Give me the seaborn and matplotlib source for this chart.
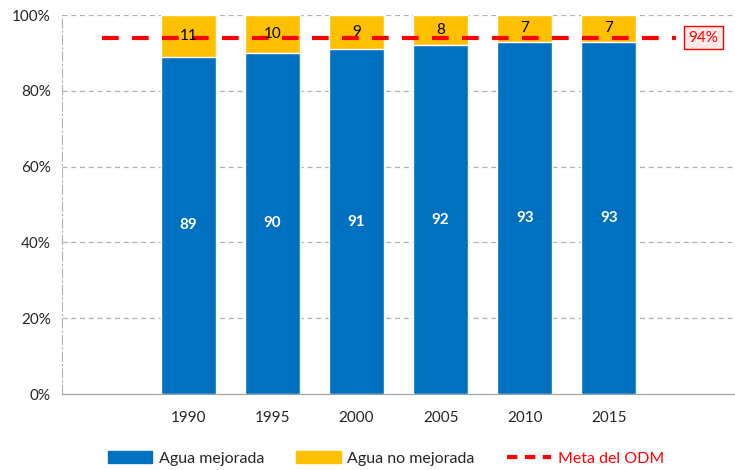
import matplotlib
matplotlib.use("Agg")
import matplotlib.pyplot as plt
from matplotlib.patches import Patch
from matplotlib.lines import Line2D
import seaborn as sns
import pandas as pd

years = ["1990", "1995", "2000", "2005", "2010", "2015"]
agua_mejorada = [89, 90, 91, 92, 93, 93]
agua_no_mejorada = [11, 10, 9, 8, 7, 7]
meta_odm = 94

blue = "#0070C0"
yellow = "#FFC000"
red = "#FF0000"

sns.set_style("white")
plt.rcParams["font.family"] = ["Lato", "DejaVu Sans"]

df = pd.DataFrame({"year": years, "mej": agua_mejorada, "no": agua_no_mejorada})
df["total"] = df["mej"] + df["no"]

fig = plt.figure(figsize=(7.35, 4.7), dpi=100)
ax = fig.add_axes([0.0844, 0.1617, 0.9156, 0.8063])

# stacked bars: full height in yellow, improved water drawn over it in blue
sns.barplot(data=df, x="year", y="total", color=yellow, width=0.65,
            saturation=1, ax=ax, zorder=2)
sns.barplot(data=df, x="year", y="mej", color=blue, width=0.65,
            saturation=1, ax=ax, zorder=3)

for i, row in df.iterrows():
    ax.text(i, row["mej"] / 2, str(row["mej"]), ha="center", va="center",
            color="white", fontsize=11, fontweight="bold", zorder=5)
    ax.text(i, row["mej"] + row["no"] / 2, str(row["no"]), ha="center",
            va="center", color="black", fontsize=11, zorder=5)

# meta line
ax.plot([-1.02, 5.8], [meta_odm, meta_odm], color=red, lw=3,
        dashes=(4, 3.2), zorder=4)
ax.text(6.12, meta_odm, f"{meta_odm}%", ha="center", va="center",
        color=red, fontsize=11,
        bbox=dict(boxstyle="square,pad=0.3", fc="#FDE9E7", ec=red, lw=1))

ax.set_xlim(-1.5, 6.42)
ax.set_ylim(0, 100)
ax.set_yticks(range(0, 101, 20))
ax.set_yticklabels([f"{v}%" for v in range(0, 101, 20)], fontsize=11)
ax.set_xlabel("")
ax.set_ylabel("")
ax.tick_params(axis="x", length=0, labelsize=11, pad=12)
ax.set_xticks([i - 0.5 for i in range(-1, 8)], minor=True)
ax.tick_params(axis="x", which="minor", length=5, color="#A0A0A0")
ax.tick_params(axis="y", length=4, color="#A0A0A0", pad=4)

ax.yaxis.grid(True, color="#B0B0B0", ls=(0, (4, 3)), lw=0.9, zorder=0)
ax.set_axisbelow(True)
for s in ["top", "right"]:
    ax.spines[s].set_visible(False)
ax.spines["bottom"].set_color("#A0A0A0")
ax.spines["left"].set_color("#B0B0B0")
ax.spines["left"].set_linestyle((0, (8, 3, 1, 3)))

handles = [Patch(color=blue, label="Agua mejorada"),
           Patch(color=yellow, label="Agua no mejorada"),
           Line2D([0], [0], color=red, lw=3, dashes=(2.5, 1.8), label="Meta del ODM")]
leg = fig.legend(handles=handles, loc="center", bbox_to_anchor=(0.525, 0.025),
                 ncol=3, frameon=False, fontsize=11.5, handlelength=2.8,
                 handleheight=0.8, handletextpad=0.4, columnspacing=2.0)
leg.get_texts()[2].set_color(red)

fig.savefig("out.png", dpi=100)
